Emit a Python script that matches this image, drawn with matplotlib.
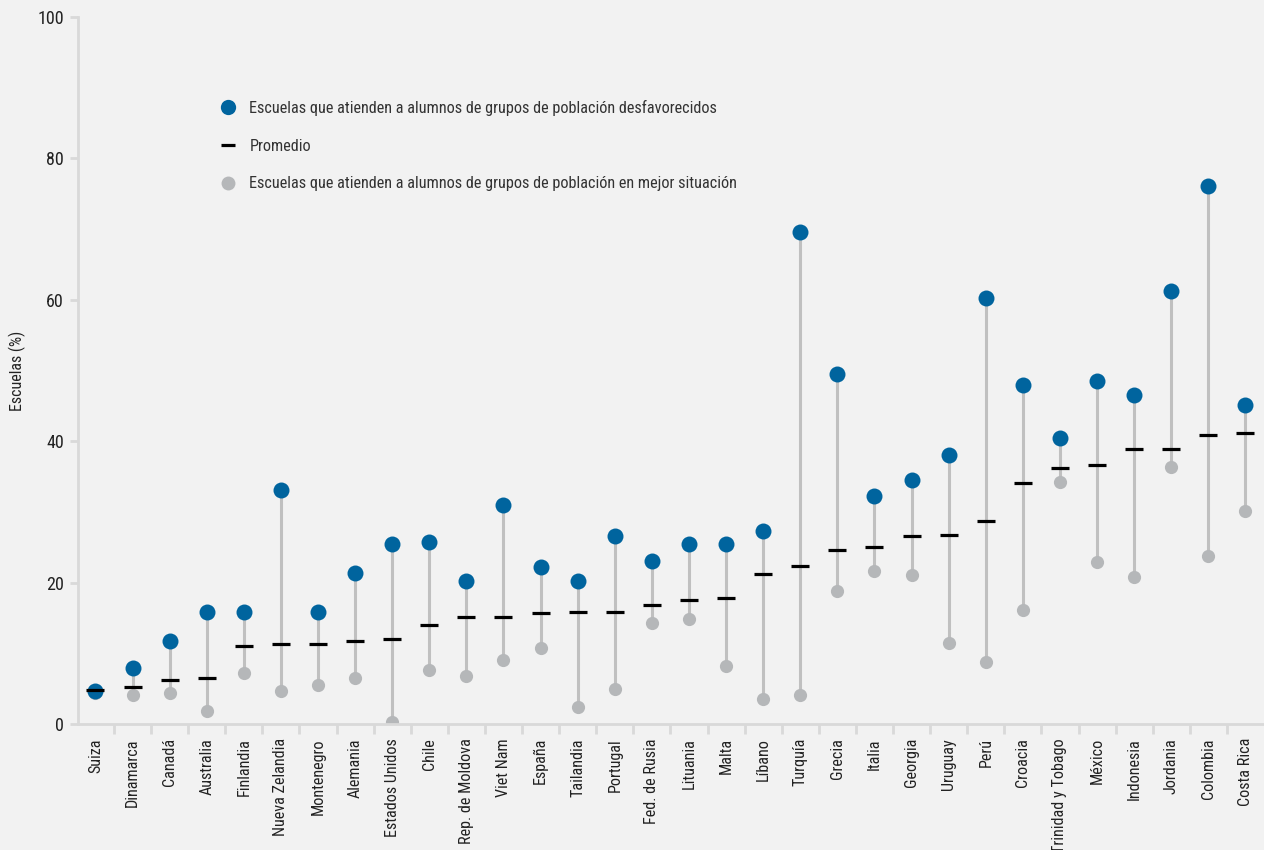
import matplotlib
matplotlib.use("Agg")
import matplotlib.pyplot as plt
from matplotlib.lines import Line2D
from matplotlib import font_manager
import numpy as np

disponibles = {f.name for f in font_manager.fontManager.ttflist}
familias = [f for f in ['Roboto Condensed', 'Liberation Sans Narrow', 'Roboto'] if f in disponibles]
plt.rcParams['font.family'] = familias + ['DejaVu Sans']

# Datos
paises = ['Suiza', 'Dinamarca', 'Canadá', 'Australia', 'Finlandia', 'Nueva Zelandia',
          'Montenegro', 'Alemania', 'Estados Unidos', 'Chile', 'Rep. de Moldova',
          'Viet Nam', 'España', 'Tailandia', 'Portugal', 'Fed. de Rusia', 'Lituania',
          'Malta', 'Líbano', 'Turquía', 'Grecia', 'Italia', 'Georgia', 'Uruguay',
          'Perú', 'Croacia', 'Trinidad y Tobago', 'México', 'Indonesia', 'Jordania',
          'Colombia', 'Costa Rica']
desfavorecidos = [4.7, 8.0, 11.7, 15.8, 15.8, 33.1, 15.8, 21.4, 25.5, 25.7, 20.2,
                  31.0, 22.2, 20.2, 26.6, 23.1, 25.5, 25.5, 27.3, 69.6, 49.5, 32.2,
                  34.6, 38.1, 60.3, 48.0, 40.4, 48.6, 46.6, 61.2, 76.1, 45.1]
promedio = [4.9, 5.2, 6.3, 6.6, 11.0, 11.3, 11.3, 11.8, 12.1, 14.0, 15.1, 15.1,
            15.7, 15.9, 15.9, 16.8, 17.5, 17.8, 21.2, 22.4, 24.7, 25.0, 26.6, 26.8,
            28.8, 34.1, 36.2, 36.7, 38.9, 38.9, 40.9, 41.2]
mejor_situacion = [4.4, 4.1, 4.4, 1.8, 7.3, 4.7, 5.6, 6.5, 0.3, 7.6, 6.8, 9.1, 10.8,
                   2.4, 5.0, 14.3, 14.9, 8.2, 3.6, 4.1, 18.8, 21.7, 21.1, 11.5, 8.8,
                   16.2, 34.3, 22.9, 20.8, 36.4, 23.8, 30.2]

azul = '#00649e'
gris_punto = '#b5b7b9'
gris_linea = '#c0c0c0'
fondo = '#f2f2f2'
eje = '#d9d9d9'

fig = plt.figure(figsize=(12.64, 8.5), dpi=100, facecolor=fondo)
ax = fig.add_axes([0.0617, 0.148, 0.9383, 0.832], facecolor=fondo)

x = np.arange(len(paises))
ax.vlines(x, mejor_situacion, desfavorecidos, color=gris_linea, lw=2.2, zorder=1)
ax.plot(x, mejor_situacion, 'o', color=gris_punto, ms=9.5, mew=0, zorder=2)
ax.plot(x, desfavorecidos, 'o', color=azul, ms=11.5, mew=0, zorder=3)
ax.plot(x, promedio, '_', color='black', ms=12.5, mew=2.3, zorder=4)

ax.set_xlim(-0.47, 31.5)
ax.set_ylim(0, 100)
ax.set_yticks([0, 20, 40, 60, 80, 100])
ax.set_xticks(x)
ax.set_xticklabels(paises, rotation=90, fontsize=11.6, color='#222222')
ax.set_xticks(np.arange(0.5, 31, 1), minor=True)
ax.tick_params(axis='x', which='major', length=0, pad=10)
ax.tick_params(axis='x', which='minor', length=7, width=2, color=eje)
ax.tick_params(axis='y', length=6, width=2, color=eje, labelsize=13,
               labelcolor='#222222', pad=4)
ax.set_ylabel('Escuelas (%)', fontsize=11.5, color='#222222', labelpad=8)

for lado in ['top', 'right']:
    ax.spines[lado].set_visible(False)
for lado in ['left', 'bottom']:
    ax.spines[lado].set_color(eje)
    ax.spines[lado].set_linewidth(2)

handles = [
    Line2D([], [], ls='none', marker='o', color=azul, ms=11, mew=0),
    Line2D([], [], ls='none', marker='_', color='black', ms=10, mew=2.3),
    Line2D([], [], ls='none', marker='o', color=gris_punto, ms=10, mew=0),
]
etiquetas = ['Escuelas que atienden a alumnos de grupos de población desfavorecidos',
             'Promedio',
             'Escuelas que atienden a alumnos de grupos de población en mejor situación']
leg = ax.legend(handles, etiquetas, loc='upper left', bbox_to_anchor=(0.115, 0.892),
                frameon=False, fontsize=11.7, labelspacing=1.4, handlelength=0.9,
                handletextpad=0.85, borderaxespad=0)
for t in leg.get_texts():
    t.set_color('#333333')

fig.savefig('out.png', dpi=100, facecolor=fondo)
